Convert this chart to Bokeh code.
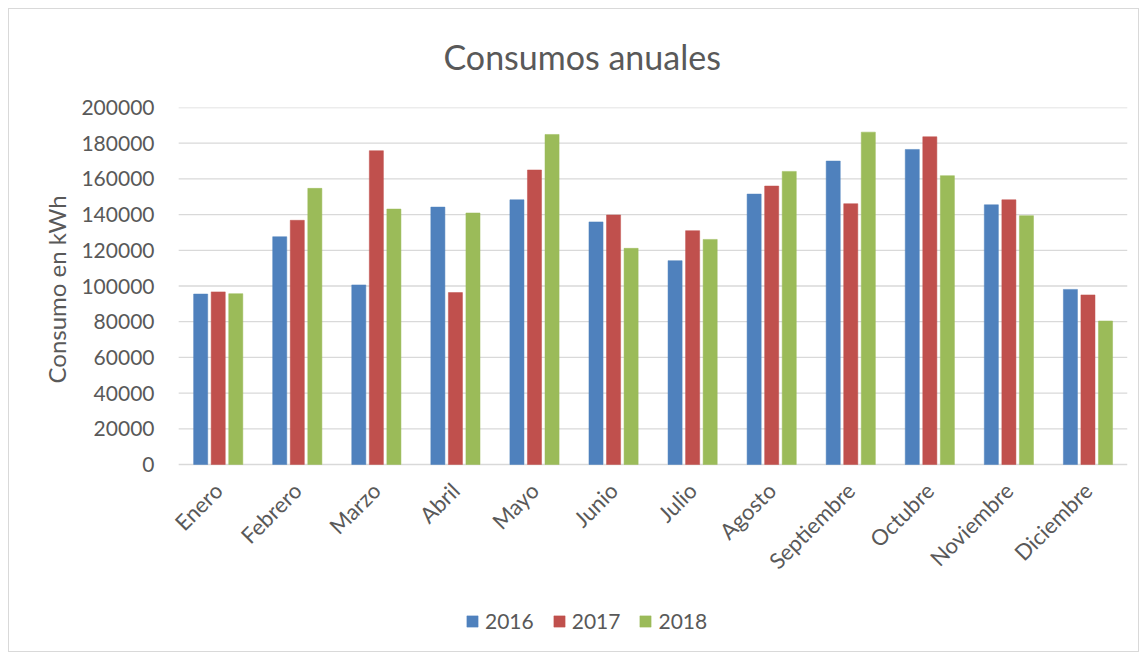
import math
from bokeh.plotting import figure
from bokeh.models import (ColumnDataSource, Range1d, Legend, LegendItem, Title,
                          FixedTicker, BasicTickFormatter, InlineStyleSheet)
from bokeh.transform import dodge
from bokeh.embed import file_html
from bokeh.resources import INLINE

months = ["Enero", "Febrero", "Marzo", "Abril", "Mayo", "Junio", "Julio",
          "Agosto", "Septiembre", "Octubre", "Noviembre", "Diciembre"]
v2016 = [95500, 127600, 100600, 144200, 148300, 135900, 114200, 151500, 170000, 176500, 145500, 98100]
v2017 = [96700, 136800, 175800, 96300, 165000, 139800, 131000, 156000, 146100, 183600, 148300, 95000]
v2018 = [95700, 154700, 143100, 140900, 184900, 121100, 126100, 164200, 186200, 161800, 139400, 80400]
y_ticks = [0, 20000, 40000, 60000, 80000, 100000, 120000, 140000, 160000, 180000, 200000]
series = ["2016", "2017", "2018"]
colors = ["#4F81BD", "#C0504D", "#9BBB59"]
title_text = "Consumos anuales"
y_label = "Consumo en kWh"

FONT = "Lato"
TXT = "#595959"
BORDER = "#d9d9d9"

# layout: the value axis spans 357 px for 0..200000; the frame is extended
# downward (legend + labels inside) and a little to the left (room for "Enero").
AXIS_PX = 357
FRAME_PX = 533
y_top = y_ticks[-1]
y_bottom = -y_top * (FRAME_PX - AXIS_PX) / AXIS_PX
n = len(months)
LEFT_PAD = 0.23  # in category widths
centers = [i + 0.5 for i in range(n)]

src = ColumnDataSource(dict(pos=centers, s2016=v2016, s2017=v2017, s2018=v2018))

p = figure(x_range=Range1d(-LEFT_PAD, n), y_range=Range1d(y_bottom, y_top),
           frame_width=967, frame_height=FRAME_PX,
           min_border_left=160, min_border_right=13, min_border_top=107, min_border_bottom=13,
           output_backend="svg", toolbar_location=None, title=title_text)
g = f"linear-gradient({BORDER},{BORDER})"
css = (":host { background: "
       f"{g} 8px 8px / calc(100% - 9px) 1px no-repeat, "
       f"{g} 8px calc(100% - 1px) / calc(100% - 9px) 1px no-repeat, "
       f"{g} 8px 8px / 1px calc(100% - 9px) no-repeat, "
       f"{g} calc(100% - 1px) 8px / 1px calc(100% - 9px) no-repeat, white; }}")
p.stylesheets = [InlineStyleSheet(css=css)]
p.outline_line_color = None
p.background_fill_color = "white"
p.border_fill_alpha = 0

p.title.align = "left"
p.title.offset = 283
p.title.text_font = FONT
p.title.text_font_size = "34px"
p.title.text_font_style = "normal"
p.title.text_color = TXT
p.title.standoff = 62

# horizontal gridlines over the category area only (0 .. n)
p.xgrid.grid_line_color = None
p.ygrid.grid_line_color = None
p.segment(x0=[0] * len(y_ticks), x1=[n] * len(y_ticks), y0=y_ticks, y1=y_ticks,
          line_color="#d9d9d9", line_width=1.3)

offsets = [-0.222, 0.0, 0.222]
renderers = []
for s, c, off in zip(series, colors, offsets):
    r = p.vbar(x=dodge("pos", off), top="s" + s, bottom=0, width=0.178,
               source=src, fill_color=c, line_color=c, line_width=0.5)
    renderers.append(r)

# y axis
p.yaxis.ticker = FixedTicker(ticks=y_ticks)
p.yaxis.formatter = BasicTickFormatter(use_scientific=False)
p.yaxis.axis_line_color = None
p.yaxis.major_tick_line_color = None
p.yaxis.minor_tick_line_color = None
p.yaxis.major_label_standoff = 0
p.yaxis.major_label_text_font = FONT
p.yaxis.major_label_text_font_size = "21px"
p.yaxis.major_label_text_color = TXT

ylab = Title(text=y_label, align="left", offset=257, standoff=16,
             text_font=FONT, text_font_size="24px", text_font_style="normal",
             text_color=TXT)
p.add_layout(ylab, "left")

# x axis (drawn at value 0 inside the extended frame)
p.xaxis.fixed_location = 0
p.xaxis.ticker = FixedTicker(ticks=centers)
p.xaxis.major_label_overrides = {c: m for c, m in zip(centers, months)}
p.xaxis.axis_line_color = None
p.xaxis.major_tick_line_color = None
p.xaxis.minor_tick_line_color = None
p.xaxis.major_label_orientation = math.pi / 4
p.xaxis.major_label_standoff = 16
p.xaxis.major_label_text_font = FONT
p.xaxis.major_label_text_font_size = "22px"
p.xaxis.major_label_text_color = TXT

legend = Legend(items=[LegendItem(label=s, renderers=[r]) for s, r in zip(series, renderers)],
                orientation="horizontal", location=(305, 7),
                glyph_width=14, glyph_height=14, label_text_font=FONT,
                label_text_font_size="21px", label_text_color=TXT,
                spacing=18, padding=0, label_standoff=6, margin=0,
                border_line_color=None, background_fill_alpha=0)
p.add_layout(legend, "center")

open("out.html", "w").write(file_html(p, INLINE))
